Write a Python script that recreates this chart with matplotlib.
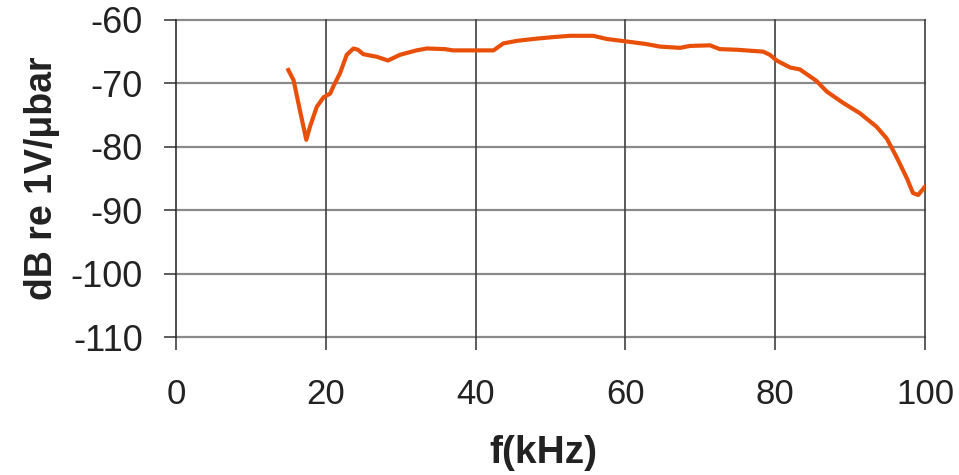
import matplotlib.pyplot as plt

plt.rcParams['font.family'] = ['Liberation Sans', 'DejaVu Sans']
plt.rcParams['axes.unicode_minus'] = False

# hydrophone sensitivity curve
freq_khz = [15.0, 15.7, 16.5, 17.4, 17.9, 18.8, 19.7, 20.6, 21.0, 21.9, 22.8, 23.7,
            24.3, 25.0, 26.8, 28.3, 29.9, 32.1, 33.5, 35.9, 37.0, 42.4, 43.7, 45.5,
            47.7, 50.4, 52.6, 55.7, 57.5, 60.2, 62.8, 64.6, 67.3, 68.6, 71.3, 72.6,
            74.9, 78.4, 79.3, 80.2, 82.0, 83.3, 85.5, 86.9, 89.1, 91.3, 93.5, 94.9,
            96.2, 97.6, 98.4, 99.1, 100.0]
level_db = [-67.9, -69.5, -74.0, -78.9, -76.8, -73.7, -72.2, -71.6, -70.5, -68.4, -65.5, -64.5,
            -64.7, -65.4, -65.8, -66.4, -65.5, -64.8, -64.5, -64.6, -64.8, -64.8, -63.7, -63.3,
            -63.0, -62.7, -62.5, -62.5, -63.0, -63.4, -63.8, -64.2, -64.4, -64.1, -64.0, -64.6,
            -64.7, -65.0, -65.5, -66.4, -67.5, -67.8, -69.6, -71.3, -73.1, -74.7, -76.8, -78.7,
            -81.6, -85.0, -87.3, -87.6, -86.3]

x_ticks = [0, 20, 40, 60, 80, 100]
y_ticks = [-110, -100, -90, -80, -70, -60]

fig = plt.figure(figsize=(9.59, 4.75), dpi=100)
ax = fig.add_axes([0.1835, 0.2905, 0.781, 0.6675])

ax.plot(freq_khz, level_db, color='#E8500A', linewidth=3.0, solid_joinstyle='round', zorder=3)

ax.set_xlim(0, 100)
ax.set_ylim(-110, -60)
ax.set_xticks(x_ticks)
ax.set_yticks(y_ticks)

for y in y_ticks:
    ax.axhline(y, color='#8a8a8a', linewidth=1.6, zorder=1, clip_on=False)
for x in x_ticks[1:]:
    ax.axvline(x, color='#404040', linewidth=1.2, zorder=2, clip_on=False)

for side in ['top', 'right', 'bottom']:
    ax.spines[side].set_visible(False)
ax.spines['left'].set_color('#303030')
ax.spines['left'].set_linewidth(1.2)

ax.tick_params(axis='y', direction='out', length=9, width=1.1, color='#303030',
               pad=15, labelsize=26, labelcolor='#222222')
ax.tick_params(axis='x', direction='out', length=9.5, width=1.1, color='#303030',
               pad=20, labelsize=25, labelcolor='#222222')

ax.set_xlabel('f(kHz)', fontsize=28, fontweight='bold', color='#222222')
ax.set_ylabel('dB re 1V/μbar', fontsize=27, fontweight='bold', color='#222222')
ax.xaxis.set_label_coords(0.49, -0.31)
ax.yaxis.set_label_coords(-0.155, 0.5)

fig.savefig('out.png', dpi=100, facecolor='white')
